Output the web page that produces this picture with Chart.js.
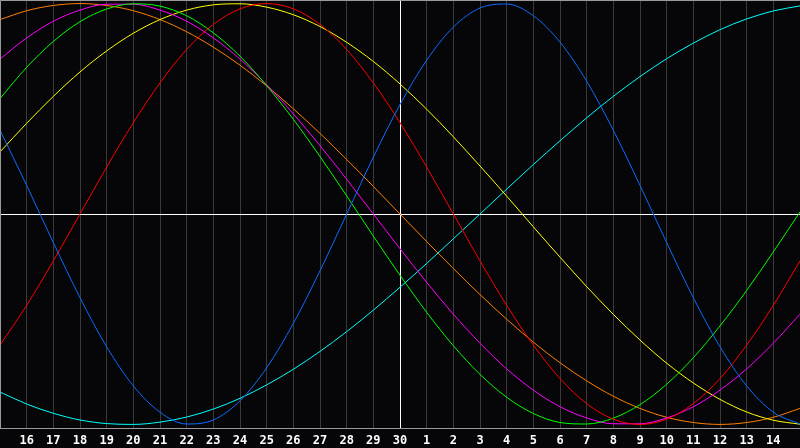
<!DOCTYPE html>
<html>
<head>
<meta charset="UTF-8">
<script src="https://cdn.jsdelivr.net/npm/chart.js"></script>
<style>
  html, body { margin: 0; padding: 0; background: #060608; }
  canvas { display: block; }
</style>
</head>
<body>
<canvas id="bio" width="800" height="448"></canvas>
<script>
    // days shown along the bottom (first and last are not labelled)
    const days = [15, 16, 17, 18, 19, 20, 21, 22, 23, 24, 25, 26, 27, 28, 29, 30,
                  1, 2, 3, 4, 5, 6, 7, 8, 9, 10, 11, 12, 13, 14, 15];

    const blue = [0.398, 0.136, -0.136, -0.398, -0.631, -0.817, -0.942, -0.998, -0.979, -0.888, -0.731,
        -0.520, -0.270, 0.000, 0.270, 0.520, 0.731, 0.888, 0.979, 0.998, 0.942, 0.817, 0.631, 0.398, 0.136,
        -0.136, -0.398, -0.631, -0.817, -0.942, -0.998];
    const red = [-0.623, -0.434, -0.223, 0.000, 0.223, 0.434, 0.623, 0.782, 0.901, 0.975, 1.000,
        0.975, 0.901, 0.782, 0.623, 0.434, 0.223, 0.000, -0.223, -0.434, -0.623, -0.782, -0.901, -0.975, -1.000,
        -0.975, -0.901, -0.782, -0.623, -0.434, -0.223];
    const green = [0.549, 0.697, 0.820, 0.914, 0.974, 0.999, 0.988, 0.942, 0.861, 0.750, 0.610,
        0.450, 0.273, 0.086, -0.105, -0.291, -0.467, -0.626, -0.762, -0.871, -0.948, -0.991, -0.998, -0.970, -0.906,
        -0.809, -0.683, -0.532, -0.363, -0.180, 0.010];
    const magenta = [0.736, 0.837, 0.916, 0.969, 0.997, 0.997, 0.969, 0.916, 0.837, 0.736, 0.614,
        0.476, 0.325, 0.165, 0.000, -0.165, -0.325, -0.476, -0.614, -0.736, -0.837, -0.916, -0.969, -0.997, -0.997,
        -0.969, -0.916, -0.837, -0.736, -0.614, -0.476];
    const yellow = [0.295, 0.431, 0.559, 0.675, 0.775, 0.859, 0.924, 0.969, 0.994, 0.999, 0.983,
        0.947, 0.891, 0.816, 0.725, 0.618, 0.498, 0.367, 0.228, 0.085, -0.061, -0.205, -0.345, -0.477, -0.599,
        -0.709, -0.803, -0.881, -0.941, -0.980, -0.999];
    const orange = [0.924, 0.966, 0.991, 1.000, 0.991, 0.966, 0.924, 0.866, 0.793, 0.707, 0.609,
        0.500, 0.383, 0.259, 0.131, 0.000, -0.131, -0.259, -0.383, -0.500, -0.609, -0.707, -0.793, -0.866, -0.924,
        -0.966, -0.991, -1.000, -0.991, -0.966, -0.924];
    const cyan = [-0.846, -0.903, -0.947, -0.979, -0.996, -1.000, -0.989, -0.965, -0.927, -0.876, -0.812,
        -0.738, -0.653, -0.559, -0.457, -0.348, -0.235, -0.118, 0.000, 0.118, 0.235, 0.348, 0.457, 0.559, 0.653,
        0.738, 0.812, 0.876, 0.927, 0.965, 0.989];

    const series = [
        { data: blue, color: '#0a6cff' },
        { data: red, color: '#ff0000' },
        { data: green, color: '#00ff00' },
        { data: magenta, color: '#ff00ff' },
        { data: yellow, color: '#ffff00' },
        { data: orange, color: '#ff8000' },
        { data: cyan, color: '#00ffff' },
    ];

    const frame = {
        id: 'frame',
        beforeDraw(chart) {
            const c = chart.ctx;
            c.save();
            c.fillStyle = '#060608';
            c.fillRect(0, 0, chart.width, chart.height);
            c.restore();
        },
        afterDraw(chart) {
            const a = chart.chartArea;
            const c = chart.ctx;
            c.save();
            c.strokeStyle = '#9a9a9a';
            c.lineWidth = 1;
            c.beginPath();
            c.moveTo(a.left + 0.5, a.bottom + 0.5);
            c.lineTo(a.left + 0.5, 0.5);
            c.lineTo(a.right, 0.5);
            c.moveTo(a.left, a.bottom + 0.5);
            c.lineTo(a.right, a.bottom + 0.5);
            c.stroke();
            c.restore();
        }
    };

    new Chart(document.getElementById('bio'), {
        type: 'line',
        data: {
            labels: days,
            datasets: series.map(s => ({
                data: s.data,
                borderColor: s.color,
                borderWidth: 1,
                pointRadius: 0,
                cubicInterpolationMode: 'monotone',
                fill: false,
            }))
        },
        options: {
            responsive: false,
            animation: false,
            layout: { padding: 0 },
            plugins: { legend: { display: false }, tooltip: { enabled: false } },
            scales: {
                x: {
                    offset: false,
                    border: { display: false },
                    grid: {
                        drawTicks: false,
                        color: ctx => ctx.index === 15 ? '#ffffff' : '#3a3a3a',
                        lineWidth: 1,
                    },
                    ticks: {
                        autoSkip: false,
                        maxRotation: 0,
                        padding: 6,
                        color: '#ffffff',
                        font: { family: 'DejaVu Sans Mono', size: 12, weight: 'bold' },
                        callback: (v, i) => (i === 0 || i === days.length - 1) ? '' : days[i],
                    },
                    afterFit: scale => {
                        scale.height = 20;
                        scale.paddingLeft = 0;
                        scale.paddingRight = 0;
                    },
                },
                y: {
                    min: -1.017,
                    max: 1.017,
                    border: { display: false },
                    ticks: { display: false },
                    grid: {
                        drawTicks: false,
                        color: ctx => ctx.tick && ctx.tick.value === 0 ? '#ffffff' : 'rgba(0,0,0,0)',
                    },
                    afterBuildTicks: scale => { scale.ticks = [{ value: 0 }]; },
                    afterFit: scale => {
                        scale.width = 0;
                        scale.paddingTop = 0;
                        scale.paddingBottom = 0;
                    },
                }
            }
        },
        plugins: [frame]
    });
</script>
</body>
</html>
